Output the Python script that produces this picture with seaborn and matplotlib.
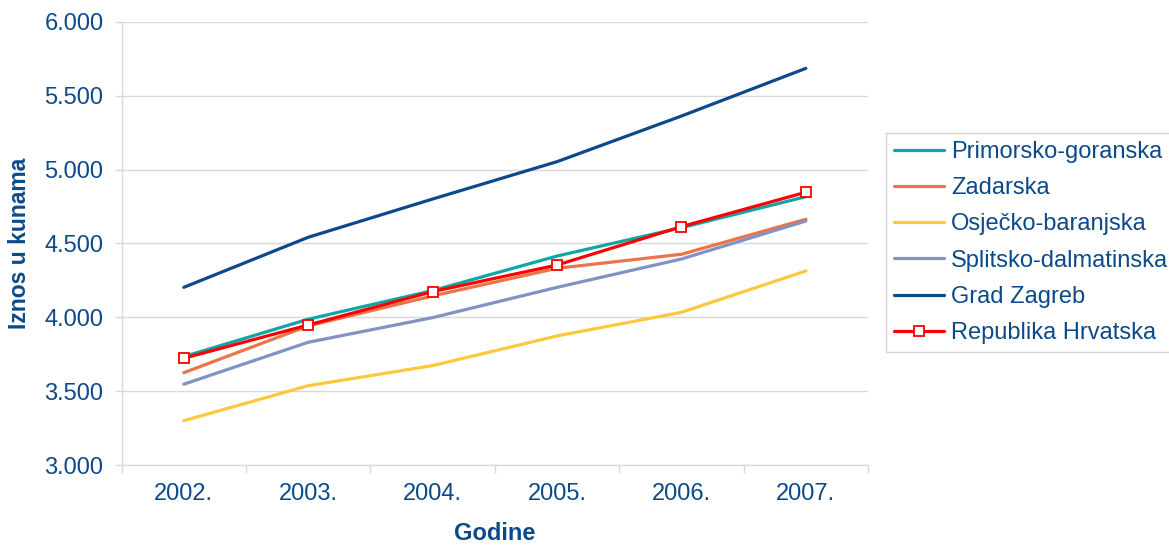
import matplotlib
matplotlib.use("Agg")
import matplotlib.pyplot as plt
from matplotlib.ticker import FuncFormatter, FixedLocator
import seaborn as sns
import pandas as pd

# Average net wage by county, 2002-2007 (HRK)
years = ["2002.", "2003.", "2004.", "2005.", "2006.", "2007."]
primorsko_goranska = [3734, 3987, 4181, 4415, 4607, 4817]
zadarska = [3625, 3942, 4145, 4332, 4427, 4664]
osjecko_baranjska = [3300, 3537, 3673, 3874, 4034, 4314]
splitsko_dalmatinska = [3547, 3831, 3998, 4203, 4395, 4652]
grad_zagreb = [4203, 4542, 4801, 5054, 5363, 5686]
republika_hrvatska = [3723, 3948, 4174, 4354, 4614, 4847]

series = {
    "Primorsko-goranska": primorsko_goranska,
    "Zadarska": zadarska,
    "Osječko-baranjska": osjecko_baranjska,
    "Splitsko-dalmatinska": splitsko_dalmatinska,
    "Grad Zagreb": grad_zagreb,
    "Republika Hrvatska": republika_hrvatska,
}
colors = {
    "Primorsko-goranska": "#12A5A8",
    "Zadarska": "#EB7449",
    "Osječko-baranjska": "#FDC93A",
    "Splitsko-dalmatinska": "#7F93C4",
    "Grad Zagreb": "#0B4A8A",
    "Republika Hrvatska": "#FF0000",
}

rows = []
for name, vals in series.items():
    for i, (yr, v) in enumerate(zip(years, vals)):
        rows.append({"idx": i, "Godina": yr, "Iznos": v, "Županija": name})
df = pd.DataFrame(rows)

sns.set_theme(style="white")
plt.rcParams["font.family"] = ["Liberation Sans", "DejaVu Sans"]
text_color = "#0B4A8A"
grid_color = "#D9D9D9"
fs = 17

fig = plt.figure(figsize=(11.69, 5.49), dpi=100)
ax = fig.add_axes([0.104, 0.153, 0.6386, 0.807])

counties = df[df["Županija"] != "Republika Hrvatska"]
national = df[df["Županija"] == "Republika Hrvatska"]

sns.lineplot(
    data=counties, x="idx", y="Iznos", hue="Županija", palette=colors,
    linewidth=2.3, ax=ax, legend=True, zorder=3,
)
sns.lineplot(
    data=national, x="idx", y="Iznos", color=colors["Republika Hrvatska"],
    linewidth=2.3, marker="s", markersize=7, markerfacecolor="white",
    markeredgecolor="#FF0000", markeredgewidth=1.3,
    ax=ax, label="Republika Hrvatska", zorder=5,
)

ax.set_xlim(-0.5, 5.5)
ax.set_ylim(3000, 6000)
ax.set_yticks([3000, 3500, 4000, 4500, 5000, 5500, 6000])
ax.yaxis.set_major_formatter(FuncFormatter(lambda v, p: f"{v/1000:.3f}"))
ax.set_xticks(range(len(years)))
ax.set_xticklabels(years)
ax.xaxis.set_minor_locator(FixedLocator([i - 0.5 for i in range(len(years) + 1)]))
ax.tick_params(axis="x", which="major", length=0, pad=13, labelsize=fs, colors=text_color)
ax.tick_params(axis="x", which="minor", length=6, width=1, color=grid_color, bottom=True)
ax.tick_params(axis="y", which="major", length=5, width=1, color=grid_color, left=True,
               labelsize=fs, labelcolor=text_color, pad=8)

ax.grid(axis="y", color=grid_color, linewidth=1)
ax.set_axisbelow(True)
for side in ("top", "right"):
    ax.spines[side].set_visible(False)
for side in ("left", "bottom"):
    ax.spines[side].set_color(grid_color)
    ax.spines[side].set_linewidth(1)

ax.set_xlabel("Godine", fontsize=fs, fontweight="bold", color=text_color, labelpad=12)
ax.set_ylabel("Iznos u kunama", fontsize=16.5, fontweight="bold", color=text_color, labelpad=10)

handles, labels = ax.get_legend_handles_labels()
ax.get_legend().remove()
leg = fig.legend(
    handles, labels, loc="upper left", bbox_to_anchor=(0.758, 0.758),
    frameon=True, fancybox=False, edgecolor="#C8C8C8", fontsize=fs,
    handlelength=2.1, handletextpad=0.3, labelspacing=0.6, borderpad=0.35,
    borderaxespad=0,
)
leg.get_frame().set_linewidth(1)
for t in leg.get_texts():
    t.set_color(text_color)
for h in leg.legend_handles:
    h.set_linewidth(2.3)

fig.savefig("out.png", dpi=100)
